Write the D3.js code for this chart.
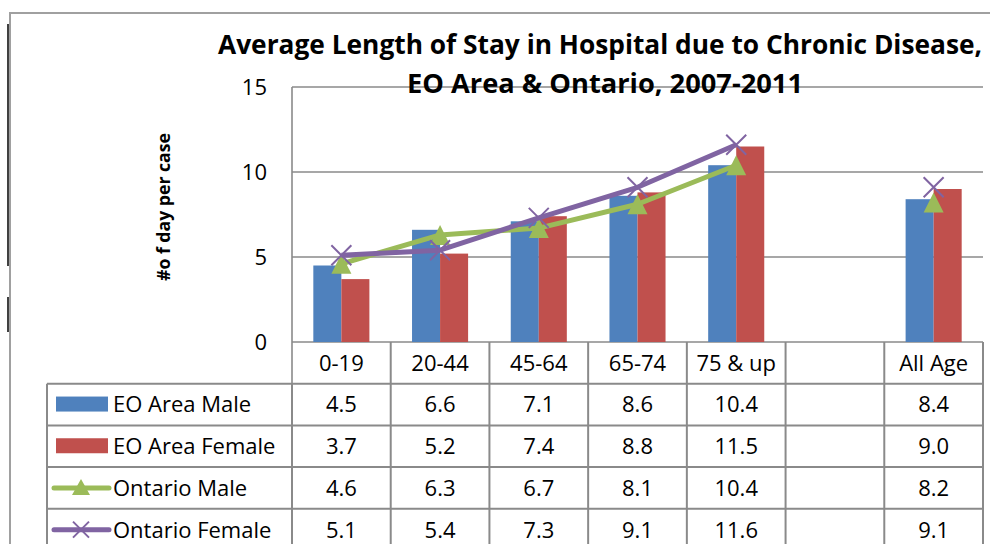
<!DOCTYPE html>
<html>
<head>
<meta charset="utf-8">
<script src="https://cdn.jsdelivr.net/npm/d3@7"></script>
<style>
  body { margin: 0; background: #fff; }
  svg { display: block; font-family: "Open Sans", sans-serif; }
</style>
</head>
<body>
<div id="chart"></div>
<script>
// data
var categories = ["0-19", "20-44", "45-64", "65-74", "75 & up", "", "All Age"];
var seriesNames = ["EO Area Male", "EO Area Female", "Ontario Male", "Ontario Female"];
var eoMale   = [4.5, 6.6, 7.1, 8.6, 10.4, null, 8.4];
var eoFemale = [3.7, 5.2, 7.4, 8.8, 11.5, null, 9.0];
var onMale   = [4.6, 6.3, 6.7, 8.1, 10.4, null, 8.2];
var onFemale = [5.1, 5.4, 7.3, 9.1, 11.6, null, 9.1];
var yTicks = [0, 5, 10, 15];
var titleLines = ["Average Length of Stay in Hospital due to Chronic Disease,", "EO Area & Ontario, 2007-2011"];
var yTitle = "#o f day per case";

var seriesValues = [eoMale, eoFemale, onMale, onFemale];
var colors = ["#4F81BD", "#C0504D", "#9BBB59", "#8064A2"];
var gridColor = "#8a8a8a";

var width = 990, height = 544;
var plot = {left: 292, right: 983, top: 87, bottom: 342};
var tableLeft = 47, rowH = 41.7;

var svg = d3.select("#chart").append("svg")
    .attr("width", width)
    .attr("height", height);

// outer frame (chart area border, cut off at right/bottom)
svg.append("path")
    .attr("d", "M10,544 V13 H990")
    .attr("fill", "none")
    .attr("stroke", "#a0a0a0")
    .attr("stroke-width", 2);
// dark marks at the very left edge
svg.append("line").attr("x1", 8).attr("x2", 8).attr("y1", 24).attr("y2", 266)
    .attr("stroke", "#000").attr("stroke-width", 1.5);
svg.append("line").attr("x1", 8).attr("x2", 8).attr("y1", 297).attr("y2", 332)
    .attr("stroke", "#000").attr("stroke-width", 1.5);

var x = d3.scaleBand()
    .domain(categories)
    .range([plot.left, plot.right]);

var y = d3.scaleLinear()
    .domain([0, 15])
    .range([plot.bottom, plot.top]);

var barW = x.bandwidth() * 0.284;

// gridlines
svg.append("g").selectAll("line")
    .data(yTicks)
    .enter().append("line")
    .attr("x1", plot.left).attr("x2", plot.right)
    .attr("y1", function(d) { return y(d); })
    .attr("y2", function(d) { return y(d); })
    .attr("stroke", gridColor)
    .attr("stroke-width", 1.6);

// y axis
var yAxis = svg.append("g")
    .attr("transform", "translate(" + plot.left + ",0)")
    .call(d3.axisLeft(y).tickValues(yTicks).tickSize(0).tickPadding(25));
yAxis.select(".domain").remove();
yAxis.selectAll("text")
    .attr("font-family", "Open Sans")
    .attr("font-size", "22px")
    .attr("fill", "#000");

svg.append("line")
    .attr("x1", plot.left).attr("x2", plot.left)
    .attr("y1", plot.top).attr("y2", plot.bottom + rowH)
    .attr("stroke", gridColor).attr("stroke-width", 1.6);

// bars
[0, 1].forEach(function(s) {
    svg.append("g").selectAll("rect")
        .data(categories.map(function(c, i) { return {c: c, v: seriesValues[s][i]}; })
              .filter(function(d) { return d.v != null; }))
        .enter().append("rect")
        .attr("x", function(d) { return x(d.c) + x.bandwidth() / 2 - barW + s * barW; })
        .attr("y", function(d) { return y(d.v); })
        .attr("width", barW)
        .attr("height", function(d) { return y(0) - y(d.v); })
        .attr("fill", colors[s]);
});

// lines
var line = d3.line()
    .defined(function(d) { return d.v != null; })
    .x(function(d) { return x(d.c) + x.bandwidth() / 2; })
    .y(function(d) { return y(d.v); });

function triangle(cx, cy, w, h) {
    return "M" + cx + "," + (cy - h / 2) + "L" + (cx + w / 2) + "," + (cy + h / 2) +
           "L" + (cx - w / 2) + "," + (cy + h / 2) + "Z";
}
function cross(cx, cy, r) {
    return "M" + (cx - r) + "," + (cy - r) + "L" + (cx + r) + "," + (cy + r) +
           "M" + (cx - r) + "," + (cy + r) + "L" + (cx + r) + "," + (cy - r);
}

[2, 3].forEach(function(s) {
    var pts = categories.map(function(c, i) { return {c: c, v: seriesValues[s][i]}; });
    svg.append("path")
        .datum(pts)
        .attr("d", line)
        .attr("fill", "none")
        .attr("stroke", colors[s])
        .attr("stroke-width", 5)
        .attr("stroke-linejoin", "round");
    svg.append("g").selectAll("path")
        .data(pts.filter(function(d) { return d.v != null; }))
        .enter().append("path")
        .attr("d", function(d) {
            var cx = x(d.c) + x.bandwidth() / 2, cy = y(d.v);
            return s == 2 ? triangle(cx, cy, 20, 20) : cross(cx, cy, 10);
        })
        .attr("fill", s == 2 ? colors[s] : "none")
        .attr("stroke", colors[s])
        .attr("stroke-width", s == 2 ? 0 : 2);
});

// header row (category labels)
var headerY = plot.bottom;
svg.append("g").selectAll("line")
    .data(categories)
    .enter().append("line")
    .attr("x1", function(d) { return x(d) + x.bandwidth(); })
    .attr("x2", function(d) { return x(d) + x.bandwidth(); })
    .attr("y1", headerY).attr("y2", headerY + rowH + 4 * rowH + 10)
    .attr("stroke", gridColor).attr("stroke-width", 2);

svg.append("g").selectAll("text")
    .data(categories)
    .enter().append("text")
    .attr("x", function(d) { return x(d) + x.bandwidth() / 2; })
    .attr("y", headerY + rowH / 2)
    .attr("dy", "0.36em")
    .attr("text-anchor", "middle")
    .attr("font-size", "22px")
    .text(function(d) { return d; });

// table
var rowTop = headerY + rowH;
var row = d3.scaleBand()
    .domain(seriesNames)
    .range([rowTop, rowTop + 4 * rowH]);

svg.append("g").selectAll("line")
    .data(seriesNames)
    .enter().append("line")
    .attr("x1", tableLeft).attr("x2", plot.right)
    .attr("y1", function(d) { return row(d); })
    .attr("y2", function(d) { return row(d); })
    .attr("stroke", gridColor).attr("stroke-width", 2);
svg.append("line")
    .attr("x1", tableLeft).attr("x2", tableLeft)
    .attr("y1", rowTop).attr("y2", height + 10)
    .attr("stroke", gridColor).attr("stroke-width", 2);
svg.append("line")
    .attr("x1", plot.left).attr("x2", plot.left)
    .attr("y1", rowTop).attr("y2", height + 10)
    .attr("stroke", gridColor).attr("stroke-width", 2);

var fmt = d3.format(".1f");
seriesNames.forEach(function(name, s) {
    var cy = row(name) + row.bandwidth() / 2;
    // legend key
    if (s < 2) {
        svg.append("rect")
            .attr("x", 56).attr("y", cy - 8)
            .attr("width", 52).attr("height", 15)
            .attr("fill", colors[s]);
    } else {
        svg.append("line")
            .attr("x1", 54).attr("x2", 109)
            .attr("y1", cy).attr("y2", cy)
            .attr("stroke", colors[s]).attr("stroke-width", 5)
            .attr("stroke-linecap", "round");
        svg.append("path")
            .attr("d", s == 2 ? triangle(81, cy - 1, 18, 16) : cross(81, cy, 8))
            .attr("fill", s == 2 ? colors[s] : "none")
            .attr("stroke", colors[s])
            .attr("stroke-width", s == 2 ? 0 : 2);
    }
    svg.append("text")
        .attr("x", 113).attr("y", cy)
        .attr("dy", "0.36em")
        .attr("font-size", "22px")
        .text(name);
    svg.append("g").selectAll("text")
        .data(categories.map(function(c, i) { return {c: c, v: seriesValues[s][i]}; })
              .filter(function(d) { return d.v != null; }))
        .enter().append("text")
        .attr("x", function(d) { return x(d.c) + x.bandwidth() / 2; })
        .attr("y", cy)
        .attr("dy", "0.36em")
        .attr("text-anchor", "middle")
        .attr("font-size", "22px")
        .text(function(d) { return fmt(d.v); });
});

// title
var titleCenter = [600, 605], titleWidth = [764, 396], titleBase = [54, 93];
titleLines.forEach(function(t, i) {
    svg.append("text")
        .attr("x", titleCenter[i])
        .attr("y", titleBase[i])
        .attr("text-anchor", "middle")
        .attr("font-size", "26px")
        .attr("font-weight", "bold")
        .attr("textLength", titleWidth[i])
        .attr("lengthAdjust", "spacingAndGlyphs")
        .text(t);
});

// y axis title
svg.append("text")
    .attr("transform", "translate(170,207) rotate(-90)")
    .attr("text-anchor", "middle")
    .attr("font-size", "18px")
    .attr("font-weight", "bold")
    .attr("textLength", 148)
    .attr("lengthAdjust", "spacingAndGlyphs")
    .text(yTitle);
</script>
</body>
</html>
